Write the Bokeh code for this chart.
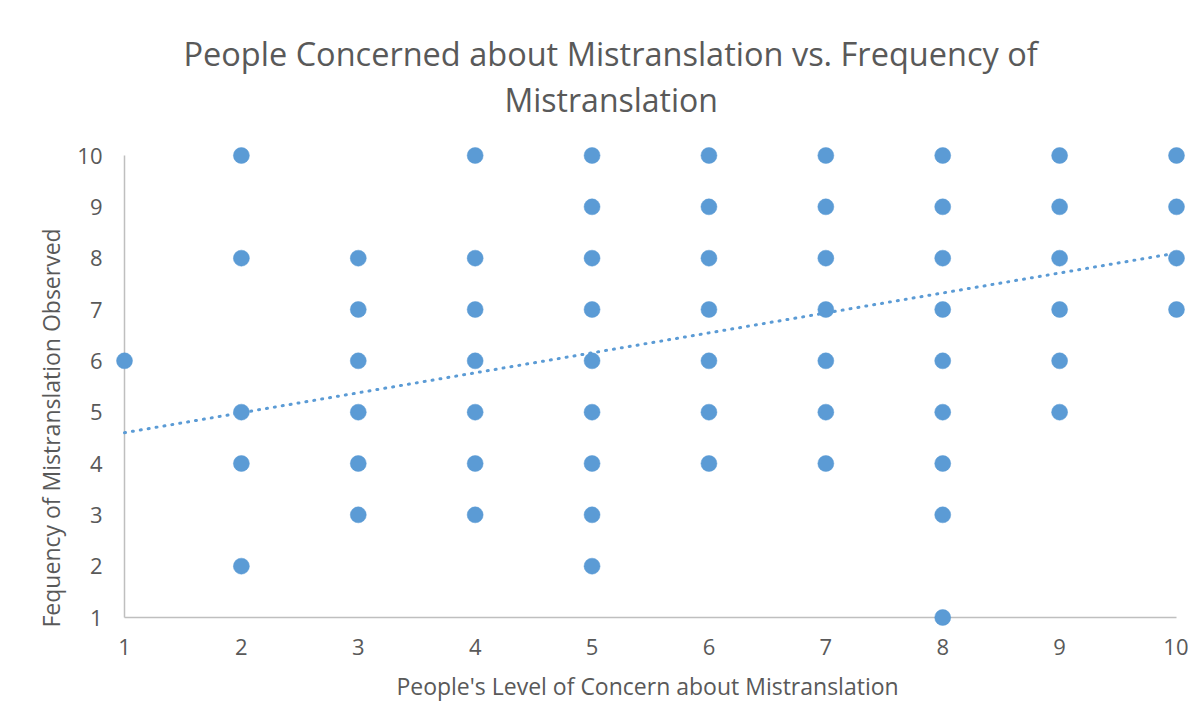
from bokeh.plotting import figure
from bokeh.models import Range1d, Title, FixedTicker, ColumnDataSource
from bokeh.embed import file_html
from bokeh.resources import INLINE

# ---- data ----
concern = [1,
           2, 2, 2, 2, 2,
           3, 3, 3, 3, 3, 3,
           4, 4, 4, 4, 4, 4, 4,
           5, 5, 5, 5, 5, 5, 5, 5, 5,
           6, 6, 6, 6, 6, 6, 6,
           7, 7, 7, 7, 7, 7, 7,
           8, 8, 8, 8, 8, 8, 8, 8, 8,
           9, 9, 9, 9, 9, 9,
           10, 10, 10, 10]
frequency = [6,
             10, 8, 5, 4, 2,
             8, 7, 6, 5, 4, 3,
             10, 8, 7, 6, 5, 4, 3,
             10, 9, 8, 7, 6, 5, 4, 3, 2,
             10, 9, 8, 7, 6, 5, 4,
             10, 9, 8, 7, 6, 5, 4,
             10, 9, 8, 7, 6, 5, 4, 3, 1,
             10, 9, 8, 7, 6, 5,
             10, 9, 8, 7]
trend_x = [1, 10]
trend_y = [4.6, 8.1]
x_ticks = [1, 2, 3, 4, 5, 6, 7, 8, 9, 10]
y_ticks = [1, 2, 3, 4, 5, 6, 7, 8, 9, 10]

title_line1 = "People Concerned about Mistranslation vs. Frequency of"
title_line2 = "Mistranslation"
x_title = "People's Level of  Concern about Mistranslation"
y_title = "Fequency of Mistranslation Observed"

BLUE = "#5B9BD5"
TEXT = "#595959"
AXIS = "#BFBFBF"
FONT = "Open Sans"

W, H = 1188, 711
frame_top, frame_bottom = 120, 626
plot_left, plot_right = 124, 1176      # pixel positions of x=1 and x=10
plot_top, plot_bottom = 155, 617       # pixel positions of y=10 and y=1

xmin, xmax = min(x_ticks), max(x_ticks)
ymin, ymax = min(y_ticks), max(y_ticks)
ppx = (plot_right - plot_left) / (xmax - xmin)
ppy = (plot_bottom - plot_top) / (ymax - ymin)
xpad = 9 / ppx

p = figure(width=W, height=H, output_backend="svg", toolbar_location=None,
           x_range=Range1d(xmin - xpad, xmax + xpad),
           y_range=Range1d(ymin - (frame_bottom - plot_bottom) / ppy,
                           ymax + (plot_top - frame_top) / ppy),
           min_border_left=int(plot_left - 9), min_border_right=int(W - plot_right - 9),
           min_border_top=frame_top, min_border_bottom=H - frame_bottom)
p.title.visible = False
p.grid.visible = False
p.outline_line_color = None
p.background_fill_color = "white"
p.border_fill_color = "white"

for ax in (p.xaxis, p.yaxis):
    ax.axis_line_color = None
    ax.major_tick_line_color = None
    ax.minor_tick_line_color = None
    ax.major_tick_in = 0
    ax.major_tick_out = 0
    ax.major_label_text_font = FONT
    ax.major_label_text_font_size = "22px"
    ax.major_label_text_color = TEXT
p.xaxis.ticker = FixedTicker(ticks=x_ticks)
p.yaxis.ticker = FixedTicker(ticks=y_ticks)
p.xaxis.major_label_standoff = 12
p.yaxis.major_label_standoff = 13

p.xaxis.axis_label = x_title
p.xaxis.axis_label_text_font = FONT
p.xaxis.axis_label_text_font_size = "23px"
p.xaxis.axis_label_text_font_style = "normal"
p.xaxis.axis_label_text_color = TEXT
p.xaxis.axis_label_standoff = 12

# axis lines spanning exactly the data extent
p.segment(x0=[xmin, xmin], y0=[ymin, ymin], x1=[xmax, xmin], y1=[ymin, ymax],
          line_color=AXIS, line_width=1.5)

# trendline
p.line(trend_x, trend_y, line_color=BLUE, line_width=3, line_dash="1 7",
       line_cap="round")

src = ColumnDataSource(dict(x=concern, y=frequency))
p.scatter("x", "y", source=src, size=16, fill_color=BLUE, line_color=BLUE,
          line_width=0.5)

# two-line chart title; first added sits nearest the frame
t2 = Title(text=title_line2, align="left", offset=504 - (plot_left - 9),
           text_font=FONT, text_font_size="32px", text_font_style="normal",
           text_color=TEXT, standoff=0)
t1 = Title(text=title_line1, align="left", offset=183 - (plot_left - 9),
           text_font=FONT, text_font_size="32.5px", text_font_style="normal",
           text_color=TEXT, standoff=0)
p.add_layout(t2, "above")
p.add_layout(t1, "above")

yt = Title(text=y_title, align="left", offset=-1, text_font=FONT,
           text_font_size="23px", text_font_style="normal", text_color=TEXT,
           standoff=16)
p.add_layout(yt, "left")

open("out.html", "w").write(file_html(p, INLINE))
